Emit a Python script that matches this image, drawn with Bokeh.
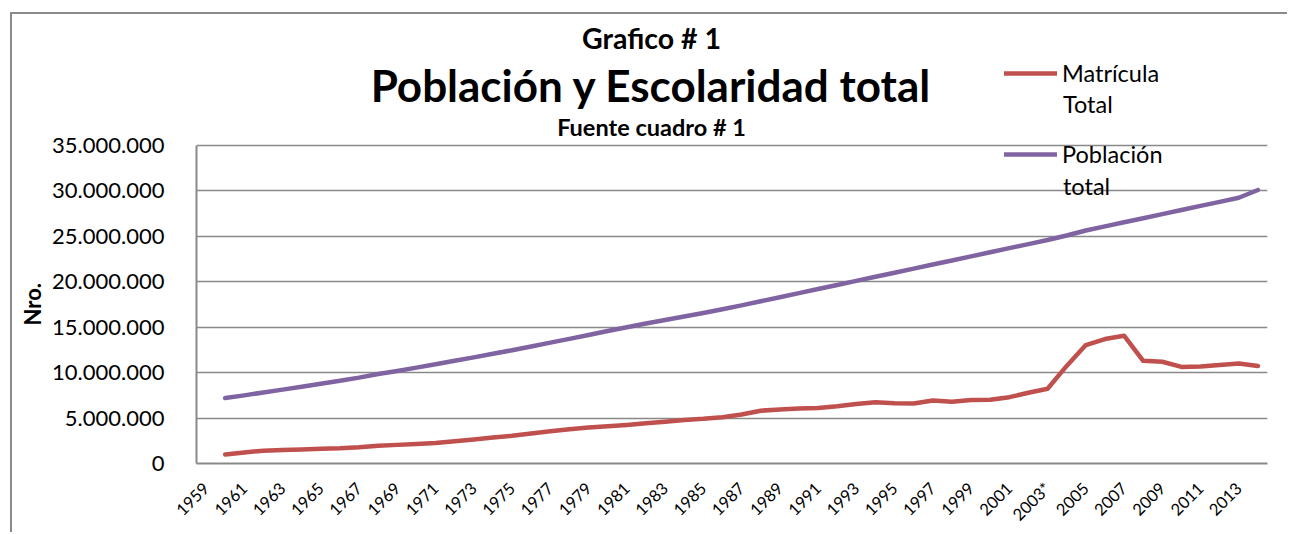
from bokeh.plotting import figure
from bokeh.models import FixedTicker, Legend, LegendItem, Label, Range1d, Title
from bokeh.embed import file_html
from bokeh.resources import INLINE
import math

years = list(range(1960, 2015))
matricula = [1.00, 1.22, 1.41, 1.48, 1.55, 1.61, 1.67, 1.78, 1.95, 2.05,
             2.15, 2.25, 2.45, 2.65, 2.85, 3.05, 3.30, 3.55, 3.78, 3.95,
             4.10, 4.25, 4.42, 4.60, 4.80, 4.92, 5.10, 5.40, 5.81, 5.95,
             6.05, 6.11, 6.30, 6.55, 6.74, 6.62, 6.60, 6.93, 6.80, 7.00,
             7.02, 7.30, 7.78, 8.22, 10.74, 13.04, 13.70, 14.07, 11.30, 11.20,
             10.63, 10.67, 10.85, 11.00, 10.74]
poblacion = [7.20, 7.50, 7.82, 8.13, 8.45, 8.78, 9.10, 9.45, 9.85, 10.18,
             10.55, 10.92, 11.30, 11.68, 12.07, 12.47, 12.88, 13.30, 13.72, 14.15,
             14.58, 15.00, 15.40, 15.80, 16.18, 16.57, 16.97, 17.40, 17.85, 18.30,
             18.75, 19.20, 19.65, 20.10, 20.55, 21.00, 21.45, 21.90, 22.35, 22.80,
             23.25, 23.70, 24.15, 24.60, 25.10, 25.65, 26.10, 26.55, 27.00, 27.45,
             27.90, 28.35, 28.80, 29.25, 30.10]
matricula = [v * 1e6 for v in matricula]
poblacion = [v * 1e6 for v in poblacion]

x_ticks = list(range(1959, 2014, 2))
x_labels = {y: ("2003*" if y == 2003 else str(y)) for y in x_ticks}
y_ticks = [0, 5e6, 10e6, 15e6, 20e6, 25e6, 30e6, 35e6]
y_labels = ["0", "5.000.000", "10.000.000", "15.000.000", "20.000.000",
            "25.000.000", "30.000.000", "35.000.000"]

FONT = "Lato"
GRAY = "#898989"
RED = "#C0504D"
PURPLE = "#8064A2"

# layout (pixels)
W, H = 1277, 520
MB_L, MB_R, MB_T, MB_B = 183, 22, 2, 71
PLOT_H = 318  # height of the 0..35M area inside the frame
frame_h = H - MB_T - MB_B
y_top = y_ticks[-1] * frame_h / PLOT_H

p = figure(width=W, height=H, output_backend="svg", toolbar_location=None,
           x_range=Range1d(1958.5, 2014.5), y_range=Range1d(0, y_top),
           min_border_left=MB_L, min_border_right=MB_R, min_border_top=MB_T,
           min_border_bottom=MB_B)
p.styles = {"margin-left": "10px", "margin-top": "12px",
            "border-left": "2px solid #8a8a8a", "border-top": "2px solid #8a8a8a"}
p.outline_line_color = None
p.background_fill_color = "white"

r1 = p.line(years, matricula, line_color=RED, line_width=4.5, line_join="round", line_cap="round")
r2 = p.line(years, poblacion, line_color=PURPLE, line_width=4.5, line_join="round", line_cap="round")

p.xgrid.visible = False
p.ygrid.ticker = FixedTicker(ticks=y_ticks)
p.ygrid.grid_line_color = GRAY
p.ygrid.grid_line_width = 1.5

p.xaxis.ticker = FixedTicker(ticks=x_ticks)
p.xaxis.major_label_overrides = x_labels
p.xaxis.major_label_orientation = math.pi / 4
p.xaxis.major_label_text_font = FONT
p.xaxis.major_label_text_font_size = "16.5px"
p.xaxis.major_label_text_color = "black"
p.xaxis.major_label_standoff = 16
p.xaxis.major_tick_line_color = None
p.xaxis.minor_tick_line_color = None
p.xaxis.axis_line_color = GRAY
p.xaxis.axis_line_width = 2

p.yaxis.ticker = FixedTicker(ticks=y_ticks)
p.yaxis.bounds = (y_ticks[0], y_ticks[-1])
p.yaxis.major_label_overrides = {t: l for t, l in zip(y_ticks, y_labels)}
p.yaxis.major_label_text_font = FONT
p.yaxis.major_label_text_font_size = "22px"
p.yaxis.major_label_text_color = "black"
p.yaxis.major_label_standoff = 26
p.yaxis.major_tick_line_color = None
p.yaxis.minor_tick_line_color = None
p.yaxis.axis_line_color = GRAY
p.yaxis.axis_line_width = 2

# y axis title, placed beside the 0..35M area
p.add_layout(Title(text="Nro.", align="left", offset=138, standoff=8,
                   text_font=FONT, text_font_style="bold", text_font_size="22px",
                   text_color="black"), "left")

def lab(text, x, y, size, bold=True, align="center"):
    p.add_layout(Label(text=text, x=x, y=y, x_units="screen", y_units="screen",
                       text_align=align, text_baseline="middle", text_font=FONT,
                       text_font_size=size, text_font_style="bold" if bold else "normal",
                       text_color="black"))

lab("Grafico # 1", 455, 425.5, "28.5px")
lab("Población y Escolaridad total", 455, 379, "44px")
lab("Fuente cuadro # 1", 455, 337, "23.5px")

def leg(label, r, loc):
    lg = Legend(items=[LegendItem(label=label, renderers=[r])], location=loc,
                label_text_font=FONT, label_text_font_size="23.5px",
                label_text_color="black",
                glyph_width=53, glyph_height=30, label_height=30, label_standoff=5,
                padding=0, margin=0, spacing=0,
                background_fill_alpha=0, border_line_alpha=0)
    p.add_layout(lg, "center")

leg("Matrícula", r1, (808, 375))
leg("Población", r2, (808, 294))
lab("Total", 866.5, 359.5, "23.5px", bold=False, align="left")
lab("total", 866.5, 278, "23.5px", bold=False, align="left")

open("out.html", "w").write(file_html(p, INLINE))
